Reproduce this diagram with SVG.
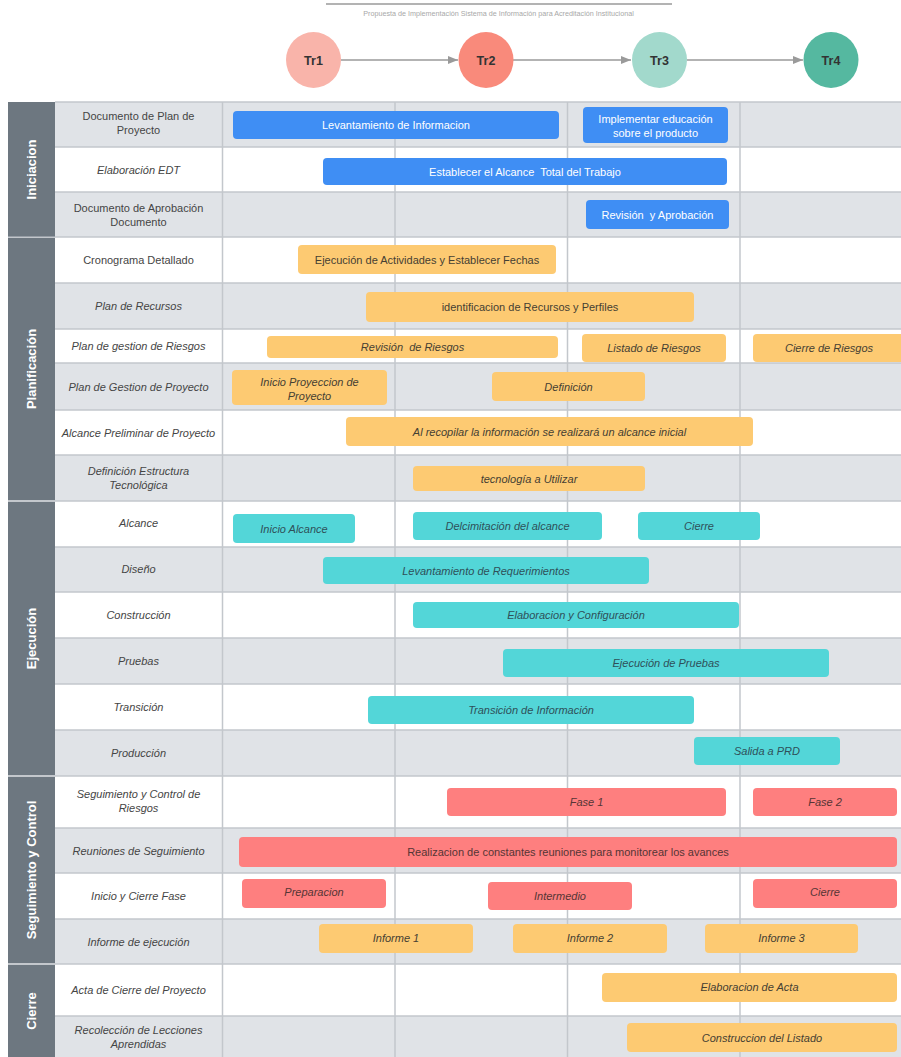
<svg xmlns="http://www.w3.org/2000/svg" width="901" height="1057" viewBox="0 0 901 1057">
<defs>
<marker id="arr" viewBox="0 0 10 8" refX="10" refY="4" markerWidth="10" markerHeight="8" markerUnits="userSpaceOnUse" orient="auto"><path d="M0,0 L10,4 L0,8 z" fill="#9a9a9a"/></marker>
</defs>
<style>
text{font-family:"Liberation Sans",Arial,sans-serif}
.lbl{font-size:11px;fill:#454545;text-anchor:middle}
.it{font-style:italic}
.ph{font-size:13px;font-weight:bold;fill:#fff;text-anchor:middle}
.bb{fill:#3f8ef4}
.bo{fill:#fdca72}
.bt{fill:#53d6d8}
.br{fill:#fe7f7f}
.tb{font-size:11px;fill:#fff;text-anchor:middle}
.to{font-size:11px;fill:#454033;text-anchor:middle}
.tt{font-size:11px;fill:#2f5058;text-anchor:middle}
.tr{font-size:11px;fill:#553535;text-anchor:middle}
.g{fill:#e0e3e7}
.w{fill:#fff}
.grid{stroke:#c3c7cc;stroke-width:1.5}
.phase{fill:#6d7780}
.tl{font-size:12.5px;font-weight:bold;fill:#333;text-anchor:middle}
.pre{white-space:pre}
</style>
<rect x="0" y="0" width="901" height="1057" fill="#fff"/>

<g id="header">
<line x1="326" y1="4" x2="672" y2="4" stroke="#9a9a9a" stroke-width="1.5"/>
<text x="498.5" y="16" font-size="7.2" fill="#a8a8a8" text-anchor="middle">Propuesta de Implementación Sistema de Información para Acreditación Institucional</text>
</g>

<g id="connectors" stroke="#9a9a9a" stroke-width="1.3" fill="none">
<line x1="341" y1="60" x2="458" y2="60" marker-end="url(#arr)"/>
<line x1="513" y1="60" x2="631" y2="60" marker-end="url(#arr)"/>
<line x1="687" y1="60" x2="803" y2="60" marker-end="url(#arr)"/>
</g>
<g id="tr1"><ellipse cx="313.5" cy="60" rx="27.5" ry="28" fill="#f9b4aa"/><text class="tl" x="313.5" y="64.5">Tr1</text></g>
<g id="tr2"><ellipse cx="486" cy="60" rx="27.5" ry="28" fill="#f98a7b"/><text class="tl" x="486" y="64.5">Tr2</text></g>
<g id="tr3"><ellipse cx="659.5" cy="60" rx="27.5" ry="28" fill="#a2d9cc"/><text class="tl" x="659.5" y="64.5">Tr3</text></g>
<g id="tr4"><ellipse cx="831" cy="60" rx="27.5" ry="28" fill="#55b8a0"/><text class="tl" x="831" y="64.5">Tr4</text></g>

<g id="rows">
<rect class="g" x="55" y="102" width="846" height="45"/>
<rect class="w" x="55" y="147" width="846" height="45"/>
<rect class="g" x="55" y="192" width="846" height="45"/>
<rect class="w" x="55" y="237" width="846" height="46"/>
<rect class="g" x="55" y="283" width="846" height="46"/>
<rect class="w" x="55" y="329" width="846" height="34"/>
<rect class="g" x="55" y="363" width="846" height="47"/>
<rect class="w" x="55" y="410" width="846" height="45"/>
<rect class="g" x="55" y="455" width="846" height="46"/>
<rect class="w" x="55" y="501" width="846" height="46"/>
<rect class="g" x="55" y="547" width="846" height="45"/>
<rect class="w" x="55" y="592" width="846" height="46"/>
<rect class="g" x="55" y="638" width="846" height="46"/>
<rect class="w" x="55" y="684" width="846" height="46"/>
<rect class="g" x="55" y="730" width="846" height="46"/>
<rect class="w" x="55" y="776" width="846" height="52"/>
<rect class="g" x="55" y="828" width="846" height="45"/>
<rect class="w" x="55" y="873" width="846" height="46"/>
<rect class="g" x="55" y="919" width="846" height="45"/>
<rect class="w" x="55" y="964" width="846" height="52"/>
<rect class="g" x="55" y="1016" width="846" height="41"/>
</g>

<g id="grid" class="grid">
<line x1="55" y1="102" x2="901" y2="102"/>
<line x1="55" y1="147" x2="901" y2="147"/>
<line x1="55" y1="192" x2="901" y2="192"/>
<line x1="55" y1="237" x2="901" y2="237"/>
<line x1="55" y1="283" x2="901" y2="283"/>
<line x1="55" y1="329" x2="901" y2="329"/>
<line x1="55" y1="363" x2="901" y2="363"/>
<line x1="55" y1="410" x2="901" y2="410"/>
<line x1="55" y1="455" x2="901" y2="455"/>
<line x1="55" y1="501" x2="901" y2="501"/>
<line x1="55" y1="547" x2="901" y2="547"/>
<line x1="55" y1="592" x2="901" y2="592"/>
<line x1="55" y1="638" x2="901" y2="638"/>
<line x1="55" y1="684" x2="901" y2="684"/>
<line x1="55" y1="730" x2="901" y2="730"/>
<line x1="55" y1="776" x2="901" y2="776"/>
<line x1="55" y1="828" x2="901" y2="828"/>
<line x1="55" y1="873" x2="901" y2="873"/>
<line x1="55" y1="919" x2="901" y2="919"/>
<line x1="55" y1="964" x2="901" y2="964"/>
<line x1="55" y1="1016" x2="901" y2="1016"/>
<line x1="222.5" y1="102" x2="222.5" y2="1057"/>
<line x1="395" y1="102" x2="395" y2="1057"/>
<line x1="567.5" y1="102" x2="567.5" y2="1057"/>
<line x1="740" y1="102" x2="740" y2="1057"/>
</g>

<rect x="8" y="102" width="47" height="955" fill="#c3c7cc"/>
<g id="phase-iniciacion"><rect class="phase" x="8" y="102" width="47" height="134.5"/><text class="ph" transform="translate(31.5,169.5) rotate(-90)" y="4.5">Iniciacion</text></g>
<g id="phase-planificacion"><rect class="phase" x="8" y="238" width="47" height="262"/><text class="ph" transform="translate(31.5,369) rotate(-90)" y="4.5">Planificación</text></g>
<g id="phase-ejecucion"><rect class="phase" x="8" y="502" width="47" height="273"/><text class="ph" transform="translate(31.5,638.5) rotate(-90)" y="4.5">Ejecución</text></g>
<g id="phase-seguimiento"><rect class="phase" x="8" y="777" width="47" height="186"/><text class="ph" transform="translate(31.5,870) rotate(-90)" y="4.5">Seguimiento y Control</text></g>
<g id="phase-cierre"><rect class="phase" x="8" y="965" width="47" height="92"/><text class="ph" transform="translate(31.5,1011) rotate(-90)" y="4.5">Cierre</text></g>

<g id="labels">
<text class="lbl" x="138.5" y="120">Documento de Plan de</text>
<text class="lbl" x="138.5" y="134">Proyecto</text>
<text class="lbl it" x="138.5" y="173.5">Elaboración EDT</text>
<text class="lbl" x="138.5" y="211.5">Documento de Aprobación</text>
<text class="lbl" x="138.5" y="225.5">Documento</text>
<text class="lbl" x="138.5" y="264">Cronograma Detallado</text>
<text class="lbl it" x="138.5" y="310">Plan de Recursos</text>
<text class="lbl it" x="138.5" y="350">Plan de gestion de Riesgos</text>
<text class="lbl it" x="138.5" y="390.5">Plan de Gestion de Proyecto</text>
<text class="lbl it" x="138.5" y="436.5">Alcance Preliminar de Proyecto</text>
<text class="lbl it" x="138.5" y="475">Definición Estructura</text>
<text class="lbl it" x="138.5" y="489">Tecnológica</text>
<text class="lbl it" x="138.5" y="527">Alcance</text>
<text class="lbl it" x="138.5" y="573">Diseño</text>
<text class="lbl it" x="138.5" y="619">Construcción</text>
<text class="lbl it" x="138.5" y="665">Pruebas</text>
<text class="lbl it" x="138.5" y="711">Transición</text>
<text class="lbl it" x="138.5" y="757">Producción</text>
<text class="lbl it" x="138.5" y="798">Seguimiento y Control de</text>
<text class="lbl it" x="138.5" y="812">Riesgos</text>
<text class="lbl it" x="138.5" y="854.5">Reuniones de Seguimiento</text>
<text class="lbl it" x="138.5" y="900">Inicio y Cierre Fase</text>
<text class="lbl it" x="138.5" y="945.5">Informe de ejecución</text>
<text class="lbl it" x="138.5" y="994">Acta de Cierre del Proyecto</text>
<text class="lbl it" x="138.5" y="1034">Recolección de Lecciones</text>
<text class="lbl it" x="138.5" y="1048">Aprendidas</text>
</g>

<g id="bar-levantamiento"><rect class="bb" x="233" y="111" width="326" height="28" rx="4"/><text class="tb" x="396" y="129">Levantamiento de Informacion</text></g>
<g id="bar-implementar"><rect class="bb" x="583" y="107" width="145" height="36" rx="4"/><text class="tb" x="655.5" y="123">Implementar educación</text><text class="tb" x="655.5" y="137">sobre el producto</text></g>
<g id="bar-establecer"><rect class="bb" x="323" y="158" width="404" height="27" rx="4"/><text class="tb pre" x="525" y="175.5">Establecer el Alcance  Total del Trabajo</text></g>
<g id="bar-revision-aprob"><rect class="bb" x="586" y="200" width="143" height="29" rx="4"/><text class="tb pre" x="657.5" y="218.5">Revisión  y Aprobación</text></g>

<g id="bar-ejecucion-act"><rect class="bo" x="298" y="245" width="258" height="29" rx="4"/><text class="to" x="427" y="263.5">Ejecución de Actividades y Establecer Fechas</text></g>
<g id="bar-identificacion"><rect class="bo" x="366" y="292" width="328" height="30" rx="4"/><text class="to" x="530" y="311">identificacion de Recursos y Perfiles</text></g>
<g id="bar-revision-riesgos"><rect class="bo" x="267" y="336" width="291" height="22" rx="4"/><text class="to it pre" x="412.5" y="351">Revisión  de Riesgos</text></g>
<g id="bar-listado"><rect class="bo" x="582" y="334" width="144" height="28" rx="4"/><text class="to it" x="654" y="352">Listado de Riesgos</text></g>
<g id="bar-cierre-riesgos"><rect class="bo" x="753" y="334" width="152" height="28" rx="4"/><text class="to it" x="829" y="352">Cierre de Riesgos</text></g>
<g id="bar-inicio-proy"><rect class="bo" x="232" y="370" width="155" height="35" rx="4"/><text class="to it" x="309.5" y="386">Inicio Proyeccion de</text><text class="to it" x="309.5" y="400">Proyecto</text></g>
<g id="bar-definicion"><rect class="bo" x="492" y="372" width="153" height="29" rx="4"/><text class="to it" x="568.5" y="390.5">Definición</text></g>
<g id="bar-recopilar"><rect class="bo" x="346" y="417" width="407" height="29" rx="4"/><text class="to it" x="549.5" y="435.5">Al recopilar la información se realizará un alcance inicial</text></g>
<g id="bar-tecnologia"><rect class="bo" x="413" y="466" width="232" height="25" rx="4"/><text class="to it" x="529" y="482.5">tecnología a Utilizar</text></g>

<g id="bar-inicio-alcance"><rect class="bt" x="233" y="514" width="122" height="29" rx="4"/><text class="tt it" x="294" y="532.5">Inicio Alcance</text></g>
<g id="bar-delcimitacion"><rect class="bt" x="413" y="512" width="189" height="28" rx="4"/><text class="tt it" x="507.5" y="530">Delcimitación del alcance</text></g>
<g id="bar-cierre-alcance"><rect class="bt" x="638" y="512" width="122" height="28" rx="4"/><text class="tt it" x="699" y="530">Cierre</text></g>
<g id="bar-requerimientos"><rect class="bt" x="323" y="557" width="326" height="27" rx="4"/><text class="tt it" x="486" y="574.5">Levantamiento de Requerimientos</text></g>
<g id="bar-elaboracion-config"><rect class="bt" x="413" y="602" width="326" height="26" rx="4"/><text class="tt it" x="576" y="619">Elaboracion y Configuración</text></g>
<g id="bar-pruebas"><rect class="bt" x="503" y="649" width="326" height="28" rx="4"/><text class="tt it" x="666" y="667">Ejecución de Pruebas</text></g>
<g id="bar-transicion"><rect class="bt" x="368" y="696" width="326" height="28" rx="4"/><text class="tt it" x="531" y="714">Transición de Información</text></g>
<g id="bar-salida"><rect class="bt" x="694" y="737" width="146" height="28" rx="4"/><text class="tt it" x="767" y="755">Salida a PRD</text></g>

<g id="bar-fase1"><rect class="br" x="447" y="788" width="279" height="28" rx="4"/><text class="tr it" x="586.5" y="806">Fase 1</text></g>
<g id="bar-fase2"><rect class="br" x="753" y="788" width="144" height="28" rx="4"/><text class="tr it" x="825" y="806">Fase 2</text></g>
<g id="bar-reuniones"><rect class="br" x="239" y="837" width="658" height="30" rx="4"/><text class="tr" x="568" y="856">Realizacion de constantes reuniones para monitorear los avances</text></g>
<g id="bar-preparacion"><rect class="br" x="242" y="879" width="144" height="29" rx="4"/><text class="tr it" x="314" y="896">Preparacion</text></g>
<g id="bar-intermedio"><rect class="br" x="488" y="882" width="144" height="28" rx="4"/><text class="tr it" x="560" y="900">Intermedio</text></g>
<g id="bar-cierre-fase"><rect class="br" x="753" y="879" width="144" height="29" rx="4"/><text class="tr it" x="825" y="896">Cierre</text></g>

<g id="bar-informe1"><rect class="bo" x="319" y="924" width="154" height="29" rx="4"/><text class="to it" x="396" y="942">Informe 1</text></g>
<g id="bar-informe2"><rect class="bo" x="513" y="924" width="154" height="29" rx="4"/><text class="to it" x="590" y="942">Informe 2</text></g>
<g id="bar-informe3"><rect class="bo" x="705" y="924" width="153" height="29" rx="4"/><text class="to it" x="781.5" y="942">Informe 3</text></g>
<g id="bar-acta"><rect class="bo" x="602" y="973" width="295" height="29" rx="4"/><text class="to it" x="749.5" y="991">Elaboracion de Acta</text></g>
<g id="bar-listado-lecciones"><rect class="bo" x="627" y="1023" width="270" height="29" rx="4"/><text class="to it" x="762" y="1041.5">Construccion del Listado</text></g>
</svg>
